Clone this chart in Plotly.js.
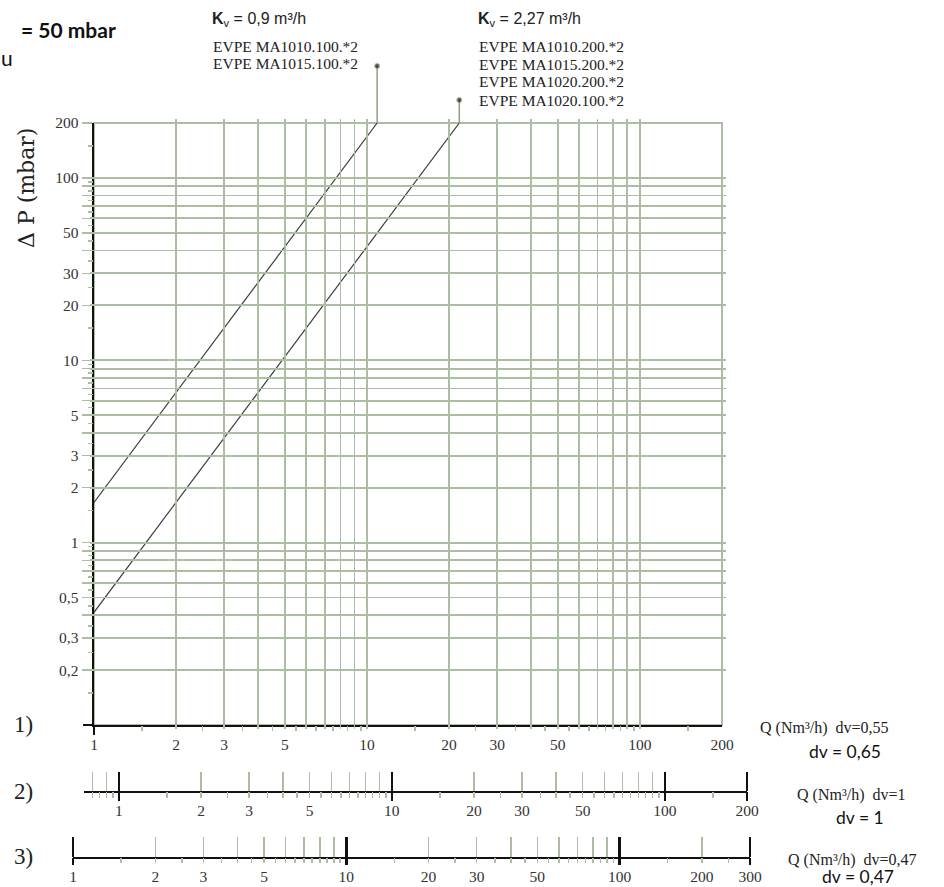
<!DOCTYPE html>
<html><head><meta charset="utf-8">
<script src="https://cdn.plot.ly/plotly-3.0.1.min.js"></script>
<style>html,body{margin:0;padding:0;background:#fff;} #chart{width:944px;height:887px;}</style>
</head><body><div id="chart"></div>
<script>
// ---------- DATA ----------
const flowKv09 = [1, 10.9];        // Q (Nm3/h), Kv = 0,9
const dpKv09   = [1.66, 200];      // ΔP (mbar)
const flowKv227 = [1, 21.8];       // Q (Nm3/h), Kv = 2,27
const dpKv227   = [0.415, 200];    // ΔP (mbar)

const models09  = ['EVPE MA1010.100.*2', 'EVPE MA1015.100.*2'];
const models227 = ['EVPE MA1010.200.*2', 'EVPE MA1015.200.*2', 'EVPE MA1020.200.*2', 'EVPE MA1020.100.*2'];
const leaderHeights = [57, 23];    // leader length above the grid (px units of leader axis)

// main chart ticks
const xLabelVals = [1, 2, 3, 5, 10, 20, 30, 50, 100, 200];
const xGridMinor = [4, 6, 7, 8, 9, 40, 60, 70, 80, 90];
const xHalfTicks = [1.5, 2.5, 3.5, 4.5, 5.5, 6.5, 7.5, 8.5, 9.5, 15, 25, 35, 45, 55, 65, 75, 85, 95, 150];
const yLabelVals = [0.2, 0.3, 0.5, 1, 2, 3, 5, 10, 20, 30, 50, 100, 200];
const yLabelText = ['0,2', '0,3', '0,5', '1', '2', '3', '5', '10', '20', '30', '50', '100', '200'];
const yGridMinor = [0.4, 0.6, 0.7, 0.8, 0.9, 4, 6, 7, 8, 9, 40, 60, 70, 80, 90];
const yHalfTicks = [0.15, 0.25, 0.35, 0.45, 0.55, 0.65, 0.75, 0.85, 0.95, 1.5, 2.5, 3.5, 4.5, 5.5, 6.5, 7.5, 8.5, 9.5, 15, 25, 35, 45, 55, 65, 75, 85, 95, 150];

// scale 2) dv = 1
const s2Labels = [1, 2, 3, 5, 10, 20, 30, 50, 100, 200];
const s2Major  = [1, 10, 100, 200];
const s2Green  = [0.8, 0.9, 2, 3, 4, 5, 6, 7, 8, 9, 20, 30, 40, 50, 60, 70, 80, 90];
const s2Small  = [0.8, 0.85, 0.9, 0.95, 1.5, 2, 2.5, 3, 3.5, 4, 4.5, 5, 5.5, 6, 6.5, 7, 7.5, 8, 8.5, 9, 9.5, 15, 20, 25, 30, 35, 40, 45, 50, 55, 60, 65, 70, 75, 80, 85, 90, 95, 150];
// scale 3) dv = 0,47
const s3Labels = [1, 2, 3, 5, 10, 20, 30, 50, 100, 200, 300];
const s3Major  = [1, 10, 100, 300];
const s3Green  = [2, 3, 4, 5, 6, 7, 8, 9, 20, 30, 40, 50, 60, 70, 80, 90, 200];
const s3Small  = [1.5, 2, 2.5, 3, 3.5, 4, 4.5, 5, 5.5, 6, 6.5, 7, 7.5, 8, 8.5, 9, 9.5, 15, 20, 25, 30, 35, 40, 45, 50, 55, 60, 65, 70, 75, 80, 85, 90, 95, 150, 200, 250];

// ---------- LAYOUT HELPERS ----------
const FW = 944, FH = 887;
const L = 64, R = 184, T = 60, B = 26;
const W = FW - L - R, H = FH - T - B;
const px = v => (v - L) / W;
const py = v => (FH - B - v) / H;
const lg = Math.log10;

function xGeom(p0, p1, v0, v1, pad) {
  const k = (lg(v1) - lg(v0)) / (p1 - p0);
  return {domain: [px(p0 - pad), px(p1 + pad)], range: [lg(v0) - pad * k, lg(v1) + pad * k]};
}
function yGeom(pBottom, pTop, v0, v1, pad) {
  const k = (lg(v1) - lg(v0)) / (pBottom - pTop);
  return {domain: [py(pBottom + pad), py(pTop - pad)], range: [lg(v0) - pad * k, lg(v1) + pad * k]};
}

const GREEN = '#adbda3';
const LEAD = '#8f9f86';
const INK = '#333333';
const serif = 'Liberation Serif, Times New Roman, serif';
const tickFont = {family: serif, size: 15.5, color: INK};

const gMain  = xGeom(94, 722, 1, 200, 0);
const gMainT = xGeom(94, 722, 1, 200, 4);
const gYMain = yGeom(725, 123, 0.1, 200, 0);
const g2  = xGeom(84, 747, 0.745, 200, 0);
const g2T = xGeom(84, 747, 0.745, 200, 4);
const g3  = xGeom(73, 750, 1, 300, 0);
const g3T = xGeom(73, 750, 1, 300, 4);

// ---------- TRACES ----------
const dummy = (xa, ya, x, y) => ({x: [x], y: [y], xaxis: xa, yaxis: ya, mode: 'markers',
  marker: {opacity: 0, size: 1}, hoverinfo: 'skip', showlegend: false});

const traces = [
  {x: flowKv09, y: dpKv09, mode: 'lines', line: {color: '#3d3d3d', width: 1.2}, hoverinfo: 'skip', showlegend: false},
  {x: flowKv227, y: dpKv227, mode: 'lines', line: {color: '#3d3d3d', width: 1.2}, hoverinfo: 'skip', showlegend: false},
  {x: [flowKv09[1], flowKv09[1]], y: [0, leaderHeights[0]], xaxis: 'x9', yaxis: 'y5', mode: 'lines+markers',
   line: {color: LEAD, width: 1.5}, marker: {size: [0, 5], color: '#111'}, hoverinfo: 'skip', showlegend: false},
  {x: [flowKv227[1], flowKv227[1]], y: [0, leaderHeights[1]], xaxis: 'x9', yaxis: 'y5', mode: 'lines+markers',
   line: {color: LEAD, width: 1.5}, marker: {size: [0, 5], color: '#111'}, hoverinfo: 'skip', showlegend: false},
  dummy('x4', 'y', 10, 1),
  dummy('x', 'y2', 10, 1),
  dummy('x2', 'y3', 10, 0.5),
  dummy('x5', 'y3', 10, 0.5),
  dummy('x6', 'y3', 10, 0.5),
  dummy('x3', 'y4', 10, 0.5),
  dummy('x7', 'y4', 10, 0.5),
  dummy('x8', 'y4', 10, 0.5)
];

// ---------- AXES ----------
const base = {type: 'log', zeroline: false, showgrid: false, fixedrange: true};
const tickOnly = (geom, anchor, vals, side, len, minorVals, minorLen, minorColor) => Object.assign({}, base, {
  domain: geom.domain, range: geom.range, anchor: anchor,
  tickmode: 'array', tickvals: vals, ticks: side, ticklen: len, tickwidth: 2.5, tickcolor: '#111',
  showticklabels: false, showline: false,
  minor: {tickmode: 'array', tickvals: minorVals, ticks: side, ticklen: minorLen, tickwidth: 1.5, tickcolor: minorColor}
});

const layout = {
  width: FW, height: FH,
  margin: {l: L, r: R, t: T, b: B, pad: 0},
  paper_bgcolor: '#fff', plot_bgcolor: 'rgba(0,0,0,0)',
  showlegend: false,
  xaxis: Object.assign({}, base, {
    domain: gMain.domain, range: gMain.range, anchor: 'y',
    showline: true, linecolor: '#111', linewidth: 2,
    tickmode: 'array', tickvals: xLabelVals, ticktext: xLabelVals.map(String),
    ticks: '', ticklabelstandoff: 4, tickfont: tickFont,
    showgrid: true, gridcolor: GREEN, gridwidth: 1.8,
    minor: {tickmode: 'array', tickvals: xGridMinor, ticks: '', showgrid: true, gridcolor: GREEN, gridwidth: 1.8}
  }),
  xaxis4: tickOnly(gMainT, 'y', [1], 'outside', 9, xHalfTicks, 5, GREEN),
  yaxis: Object.assign({}, base, {
    domain: gYMain.domain, range: gYMain.range, anchor: 'x',
    showline: true, linecolor: '#111', linewidth: 2.5,
    tickmode: 'array', tickvals: yLabelVals, ticktext: yLabelText,
    ticks: 'outside', ticklen: 10, tickwidth: 1.5, tickcolor: GREEN, tickfont: tickFont,
    showgrid: true, gridcolor: GREEN, gridwidth: 1.8,
    minor: {tickmode: 'array', tickvals: yGridMinor, ticks: 'outside', ticklen: 10, tickwidth: 1.5, tickcolor: GREEN,
            showgrid: true, gridcolor: GREEN, gridwidth: 1.8}
  }),
  yaxis2: Object.assign(tickOnly(yGeom(725, 123, 0.1, 200, 4), 'x', [0.1], 'outside', 10, yHalfTicks, 5, GREEN), {tickwidth: 2}),
  xaxis9: Object.assign({}, base, {domain: gMain.domain, range: gMain.range, anchor: 'y5', visible: false}),
  yaxis5: {domain: [gYMain.domain[1], 1], range: [0, 63], anchor: 'x9', visible: false, fixedrange: true},
  yaxis3: {domain: [py(791), py(791) + 0.01], range: [0, 1], anchor: 'x2', visible: false, fixedrange: true},
  xaxis2: Object.assign({}, base, {
    domain: g2.domain, range: g2.range, anchor: 'y3',
    showline: true, linecolor: '#111', linewidth: 2,
    tickmode: 'array', tickvals: s2Labels, ticktext: s2Labels.map(String),
    ticks: '', ticklabelstandoff: 4, tickfont: tickFont
  }),
  xaxis5: tickOnly(g2T, 'y3', s2Major, 'inside', 19, s2Green, 19, GREEN),
  xaxis6: tickOnly(g2T, 'y3', s2Major, 'outside', 9, s2Small, 6, GREEN),
  yaxis4: {domain: [py(857), py(857) + 0.01], range: [0, 1], anchor: 'x3', visible: false, fixedrange: true},
  xaxis3: Object.assign({}, base, {
    domain: g3.domain, range: g3.range, anchor: 'y4',
    showline: true, linecolor: '#111', linewidth: 2,
    tickmode: 'array', tickvals: s3Labels, ticktext: s3Labels.map(String),
    ticks: '', ticklabelstandoff: 4, tickfont: tickFont
  }),
  xaxis7: tickOnly(g3T, 'y4', s3Major, 'inside', 20, s3Green, 20, GREEN),
  xaxis8: tickOnly(g3T, 'y4', s3Major, 'outside', 7, s3Small, 5, GREEN),
  shapes: [
    {type: 'rect', xref: 'x domain', yref: 'y domain', x0: 0, x1: 1, y0: 0, y1: 1,
     line: {color: GREEN, width: 2}, layer: 'below'}
  ],
  annotations: []
};

// ---------- TEXT ----------
const ann = (text, x, y, opts) => layout.annotations.push(Object.assign({
  text: text, xref: 'paper', yref: 'paper', x: px(x), y: py(y), showarrow: false,
  xanchor: 'left', yanchor: 'middle', font: {family: serif, size: 16, color: '#222'}
}, opts || {}));

ann('<b>= 50 mbar</b>', 118, 30, {xanchor: 'right', font: {family: 'Lato, Open Sans, sans-serif', size: 21, color: '#111'}});
ann('u', 15, 58, {xanchor: 'right', font: {family: 'Lato, Open Sans, sans-serif', size: 21, color: '#111'}});

const narrow = {family: 'Liberation Sans, Arial, sans-serif', size: 16, color: '#222'};
ann('<b>K</b><sub>v</sub> = 0,9 m³/h', 210, 19, {font: narrow});
ann('<b>K</b><sub>v</sub> = 2,27 m³/h', 476, 19, {font: narrow});
const lineY09 = [47, 63.5];
models09.forEach((m, i) => ann(m, 211, lineY09[i], {font: {family: serif, size: 15.5, color: '#222'}}));
const lineY227 = [47, 64, 82, 100];
models227.forEach((m, i) => ann(m, 477, lineY227[i], {font: {family: serif, size: 15.5, color: '#222'}}));

ann('Δ P (mbar)', 27, 188, {xanchor: 'center', textangle: -90, font: {family: 'DejaVu Serif, serif', size: 22, color: '#222'}});

const rowFont = {family: serif, size: 23, color: '#222'};
ann('1)', 12, 724, {font: rowFont});
ann('2)', 12, 791, {font: rowFont});
ann('3)', 12, 856, {font: rowFont});

const qFont = {family: serif, size: 16, color: '#222'};
const dvFont = {family: 'Lato, Open Sans, sans-serif', size: 17.5, color: '#111'};
ann('Q (Nm³/h)\u00a0 dv=0,55', 758, 728, {font: qFont});
ann('dv = 0,65', 845, 751, {xanchor: 'center', font: dvFont});
ann('Q (Nm³/h)\u00a0 dv=1', 795, 795, {font: qFont});
ann('dv = 1', 860, 817, {xanchor: 'center', font: dvFont});
ann('Q (Nm³/h)\u00a0 dv=0,47', 786, 860, {font: qFont});
ann('dv = 0,47', 858, 876, {xanchor: 'center', font: dvFont});

Plotly.newPlot('chart', traces, layout, {displayModeBar: false, staticPlot: true});
</script>
</body></html>
